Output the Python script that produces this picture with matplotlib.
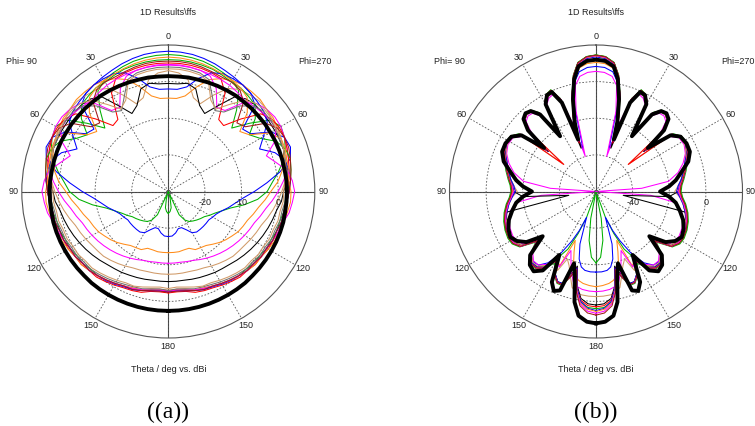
import numpy as np
import matplotlib
matplotlib.use("Agg")
import matplotlib.pyplot as plt

W, H = 755, 426

# ---------------- Left chart (a): theta 0..180 step 5, dBi ----------------
theta_L = list(range(0, 181, 5))
L_rmin, L_rmax = -30, 10
L_rticks = [-20, -10, 0]
L_rlabels = ["-20", "-10", "0"]

L_thick = [1.5, 1.5, 1.6, 1.6, 1.7, 1.8, 1.9, 2.0, 2.0, 2.1, 2.1, 2.2, 2.2, 2.3, 2.3, 2.3, 2.3, 2.4, 2.4,
           2.4, 2.4, 2.5, 2.5, 2.5, 2.5, 2.5, 2.5, 2.5, 2.6, 2.6, 2.6, 2.6, 2.6, 2.6, 2.6, 2.6, 2.6]
L_green_a = [7.4, 7.3, 7.1, 6.8, 6.3, 5.7, 5.0, 3.5, -1.0, -5.5, -1.0, 4.0, 5.5, 5.0, 4.0, 2.5, 0.5, -1.5, -3.0,
             -5.5, -9.0, -12.5, -14.5, -16.0, -17.0, -18.0, -18.5, -19.0, -19.5, -20.0, -21.0, -23.0, -30.0,
             -28.0, -25.5, -24.5, -24.0]
L_blue_a = [8.3, 8.2, 8.0, 7.6, 7.1, 6.5, 6.0, 5.5, 5.0, 3.5, -3.5, -2.5, 2.5, 5.0, 5.5, 4.5, 1.0, -3.0, -6.5,
            -9.5, -11.5, -13.0, -14.5, -15.5, -16.0, -16.5, -16.5, -16.5, -16.5, -16.5, -17.0, -18.5, -19.5,
            -19.5, -18.5, -17.8, -17.7]
L_orange_a = [-4.5, -4.5, -3.5, -0.5, 2.5, 4.0, 5.0, 5.5, 5.5, 5.5, 5.0, 5.0, 4.5, 4.0, 3.5, 2.5, 1.5, 0.0, -2.0,
              -3.5, -5.0, -6.0, -7.0, -7.5, -8.0, -8.8, -9.5, -10.3, -11.2, -12.0, -12.3, -12.5, -13.5, -13.5,
              -13.3, -13.3, -13.3]
L_magenta_a = [4.7, 4.7, 4.5, 4.2, 3.5, 1.0, -3.5, -3.0, 1.5, 4.0, 5.0, 5.5, 5.5, 5.0, 4.5, 4.0, 3.0, 1.5, 0.0,
               -1.5, -3.0, -4.0, -5.0, -5.5, -6.0, -6.5, -7.0, -7.5, -8.0, -8.5, -9.0, -9.5, -10.0, -10.2,
               -10.4, -10.4, -10.4]
L_tan_a = [3.0, 2.5, 1.0, -3.5, -4.5, -1.0, 2.5, 4.0, 4.5, 5.0, 5.0, 4.5, 4.5, 4.0, 3.5, 3.5, 3.0, 2.0, 1.0,
           0.0, -1.0, -2.0, -3.0, -3.5, -4.0, -4.5, -4.8, -5.0, -5.5, -6.0, -6.5, -7.0, -7.2, -7.4, -7.4, -7.4, -7.4]
L_black_a = [-0.5, -0.5, 0.0, -1.0, -5.0, -6.5, -3.0, 1.5, 3.0, 3.5, 3.5, 3.5, 3.5, 3.5, 3.5, 3.0, 3.0, 2.5, 1.5,
             1.0, 0.0, -0.5, -1.0, -1.5, -2.0, -2.5, -3.0, -3.5, -4.0, -4.3, -4.5, -4.8, -5.0, -5.2, -5.4, -5.4, -5.4]
L_red_c = [5.1, 5.1, 5.0, 4.8, 4.5, 4.0, 1.0, -6.0, -6.5, -2.0, 3.0, 4.5, 5.0, 5.0, 4.5, 4.0, 3.5, 3.0, 3.0,
           2.5, 2.5, 2.0, 2.0, 1.5, 1.5, 1.0, 1.0, 0.5, 0.5, 0.0, -0.5, -1.0, -1.2, -1.5, -2.3, -2.5, -2.3]
L_green_c = [6.0, 6.0, 5.9, 5.7, 5.5, 5.0, 4.5, 4.5, 4.0, 3.5, 1.0, -3.0, -1.0, 2.5, 4.0, 4.5, 4.0, 3.5, 2.5,
             2.0, 2.0, 1.5, 1.5, 1.0, 1.0, 0.5, 0.5, 0.0, 0.0, -0.5, -1.0, -1.5, -1.8, -2.0, -2.8, -3.0, -2.8]
L_blue_c = [-2.0, -2.0, -1.0, 2.0, 4.5, 5.5, 5.5, 5.5, 5.0, 4.5, 4.0, 3.0, 0.0, -2.5, 1.0, 3.0, 3.5, 3.5, 3.0,
            2.5, 2.0, 2.0, 1.5, 1.5, 1.0, 1.0, 0.5, 0.5, 0.0, -0.3, -0.8, -1.3, -1.5, -2.0, -2.5, -2.8, -2.6]
L_orange_c = [6.7, 6.6, 6.4, 6.1, 5.7, 5.3, 5.0, 4.5, 3.5, 0.5, -4.5, -3.0, 2.0, 4.0, 4.0, 3.5, 3.5, 3.0, 3.5,
              3.5, 3.0, 2.5, 2.0, 2.0, 1.5, 1.0, 1.0, 0.5, 0.0, -0.5, -1.0, -1.5, -2.0, -2.2, -3.0, -3.2, -3.0]
L_magenta_c = [4.5, 4.5, 4.4, 4.2, 4.0, 3.8, 3.5, 3.0, 2.5, 3.0, 3.5, 4.0, 4.0, 2.0, -1.5, 0.5, 3.0, 4.0, 4.5,
               4.0, 3.5, 2.5, 2.0, 1.5, 1.0, 1.0, 0.5, 0.5, 0.0, -0.5, -1.0, -1.5, -1.8, -2.2, -2.7, -3.0, -2.8]
L_gray_c = [4.0, 4.0, 3.8, 3.5, 2.5, -1.5, -4.5, -3.5, 0.5, 3.0, 4.0, 4.0, 4.0, 3.5, 3.5, 3.0, 3.0, 2.5, 2.0,
            2.0, 1.5, 1.5, 1.0, 1.0, 0.5, 0.5, 0.0, 0.0, -0.5, -1.0, -1.5, -2.0, -2.3, -2.5, -3.0, -3.3, -3.0]
L_darkred_c = [5.6, 5.6, 5.5, 5.2, 4.8, 4.5, 4.5, 4.0, 2.0, -3.5, -2.5, 2.5, 4.5, 5.0, 5.0, 4.5, 4.0, 3.5, 3.0,
               2.5, 2.0, 2.0, 1.5, 1.5, 1.0, 1.0, 0.5, 0.5, 0.0, -0.5, -1.0, -1.5, -1.5, -2.0, -2.5, -2.7, -2.5]
L_tan_c = [3.5, 3.5, 3.3, 3.0, 2.0, -2.5, -4.0, -1.0, 2.5, 4.0, 4.5, 4.5, 4.0, 4.0, 3.5, 3.0, 2.5, 2.0, 1.5,
           1.5, 1.0, 1.0, 0.5, 0.5, 0.0, 0.0, -0.5, -0.5, -1.0, -1.5, -2.0, -2.5, -2.5, -3.0, -3.5, -3.8, -3.5]

# ---------------- Right chart (b): non-uniform theta grid, dBi ----------------
theta_R = [0, 4, 8, 11, 14, 17, 19, 21, 24, 27, 30, 33, 36, 39, 42, 45, 48, 50, 53, 57, 62, 67, 72, 77, 82, 86,
           90, 94, 98, 103, 108, 113, 118, 122, 126, 130, 134, 138, 142, 146, 150, 154, 157, 160, 163, 166, 169,
           172, 176, 180]
R_rmin, R_rmax = -60, 20
R_rticks = [-40, -20, 0]
R_rlabels = ["-40", "", "0"]

R_thick = [12, 11.5, 9, 2.5, -8, -20, -30, -8, -0.5, -1, -5, -24, -8, -3.5, -2.5, -4, -10, -23, -9, -5, -4, -4.3,
           -7, -12, -16, -20, -25, -20, -16, -13, -10, -8, -7, -9, -13, -22, -10, -6, -4.7, -8, -20, -5, -1, -2.5,
           -19, -12, 1.5, 8.5, 11.3, 12]
R_red = [14.5, 13.8, 11.0, 4.5, -6, -18, -32, -6, 0.5, -0.5, -4, -22, -7, -3, -2.5, -4, -11, -37, -8, -4.5, -4,
         -5.5, -8, -10, -12, -13.5, -14, -13, -11, -9, -7.5, -6.5, -6, -6.5, -9, -18, -10, -7, -7, -9.5, -16, -9,
         -6, -6, -11, -17, -6, 0, 2.5, 3]
R_green2 = [14.6, 13.9, 11.2, 4.8, -5.5, -17, -28, -5.5, 0.8, -0.3, -3.8, -21, -6.5, -2.8, -2.3, -3.8, -10.5, -24,
            -7.5, -4.3, -3.8, -5.2, -7.5, -9.5, -11.5, -13, -13.5, -12.5, -10.5, -8.5, -7, -6, -5.5, -6, -8.5, -17,
            -9.5, -6.5, -6.5, -9, -15, -8.5, -5.5, -5.5, -10.5, -16, -5, 1, 3.5, 4]
R_black = [14.3, 13.6, 10.8, 4.2, -6.5, -19, -35, -6.5, 0.3, -0.8, -4.5, -24, -7.5, -3.3, -2.8, -4.3, -11.5, -26,
           -8.5, -5, -4.5, -6, -8.5, -10.5, -12.5, -14, -15, -20, -45, -10, -8, -7, -6.5, -7, -9.5, -19, -10.5,
           -7.5, -7.5, -10, -17, -9.5, -6.5, -6.5, -11.5, -18, -7, -1, 1.5, 2]
R_blue2 = [13.5, 12.8, 10.2, 4, -6, -18, -30, -6, 0, -1, -4.5, -22, -7, -3.5, -3, -4.5, -11, -24, -8, -5, -4.5,
           -6, -9, -11, -13, -15, -16, -14, -12, -10, -8, -7, -6.5, -7, -9.5, -18, -10, -7.5, -7.5, -10, -16, -9.5,
           -6.5, -6.5, -11, -17, -6, 0.5, 4, 5]
R_orange2 = [14, 13.3, 10.6, 4.3, -6, -17, -27, -6, 0.2, -0.7, -4.2, -21, -7, -3.2, -2.7, -4.2, -11, -23, -8,
             -4.8, -4.3, -5.8, -8.3, -10.3, -12.3, -14, -14.5, -13.5, -11.5, -9.5, -8, -7, -6.5, -7, -9.5, -18,
             -10, -7, -7, -9.5, -16, -9, -6, -6, -11, -16, -5, 1.5, 4.5, 5.5]
R_magenta2 = [14.2, 13.5, 10.8, 4.4, -6, -18, -31, -6, 0.4, -0.6, -4, -22, -7, -3, -2.6, -4.1, -11, -25, -8,
              -4.6, -4.1, -5.6, -8, -10, -12, -14, -15, -13.5, -11.5, -9.5, -8, -7, -6.5, -7, -9, -18, -10, -7,
              -7, -9.5, -16, -9, -6, -6, -11, -16, -4.5, 2, 5.5, 6.5]
R_darkred = [14.4, 13.7, 10.9, 4.5, -6, -18, -30, -6, 0.5, -0.5, -4, -22, -7, -3, -2.5, -4, -11, -25, -8, -4.5,
             -4, -5.5, -8, -10, -12, -13.5, -14, -13, -11, -9, -7.5, -6.5, -6, -6.5, -9, -18, -10, -7, -7, -9.5,
             -16, -9, -6, -6, -11, -16, -4, 3, 6.5, 7.5]
R_tan = [11.5, 10.8, 8.5, 3, -7, -20, -30, -7, -1, -2, -5, -23, -8, -4, -3.5, -5, -12, -37, -9, -5.5, -5, -6.5,
         -9, -11, -13, -15, -17, -14, -12, -10, -8.5, -7.5, -7, -8, -10, -19, -11, -8, -8, -11, -17, -12, -20, -17,
         -12, -6, -4, -3, -2.7, -2.6]
R_magenta = [5.6, 5.2, 3.5, -1, -15, -40, -20, -6, -2, -3, -6, -24, -9, -5, -4.5, -6, -13, -26, -10, -6, -5.5,
             -7, -10, -14, -20, -35, -60, -30, -16, -12, -10, -9, -8.5, -9, -11, -20, -12, -9, -9, -12, -18, -14,
             -25, -20, -14, -9, -7, -6, -5.5, -5.3]
R_orange = [10.5, 10, 8, 2.5, -8, -22, -30, -7, -1, -2, -5, -22, -8, -4, -3.5, -5, -12, -24, -9, -5.5, -5, -6.5,
            -9, -11, -13, -15, -16, -14, -12, -10, -8.5, -7.5, -7, -7.5, -10, -19, -11, -8, -8, -11, -17, -15, -31,
            -25, -18, -13, -10.5, -9.3, -8.5, -8]
R_blue = [8.3, 7.9, 6, 1, -10, -36, -28, -7, -1, -2, -5, -23, -8, -4, -3.5, -5, -12, -24, -9, -5.5, -5, -6.5, -9,
          -11, -13, -14.5, -15, -14, -12, -10, -8.5, -7.5, -7, -7.5, -10, -19, -11, -8.5, -9, -13, -20, -30, -37,
          -45, -30, -22, -18, -16.5, -16, -16]
R_green = [14.5, 13.8, 11, 4.6, -6, -18, -30, -6, 0.6, -0.4, -4, -22, -7, -3, -2.5, -4, -11, -24, -8, -4.5, -4,
           -5.5, -8, -10, -12, -13.5, -14, -13, -11, -9, -7.5, -6.5, -6, -6.5, -9, -18, -10, -7.5, -8, -11, -18,
           -25, -35, -45, -60, -60, -45, -33, -24, -21]

theta_labels = ["0", "30", "60", "90", "120", "150", "180", "150", "120", "90", "60", "30"]

C_RED, C_GREEN, C_BLUE = "#ff0000", "#00b000", "#0000ff"
C_MAG, C_ORANGE, C_TAN = "#ff00ff", "#ff8c1a", "#d09a68"
C_BLACK, C_GRAY, C_DRED = "#000000", "#707070", "#a01818"

left_series = [
    (L_green_a, C_GREEN), (L_blue_a, C_BLUE), (L_orange_a, C_ORANGE), (L_magenta_a, C_MAG),
    (L_tan_a, C_TAN), (L_black_a, C_BLACK), (L_red_c, C_RED), (L_green_c, C_GREEN), (L_blue_c, C_BLUE),
    (L_orange_c, C_ORANGE), (L_magenta_c, C_MAG), (L_gray_c, C_GRAY), (L_darkred_c, C_DRED), (L_tan_c, C_TAN),
]
right_series = [
    (R_green, C_GREEN), (R_blue, C_BLUE), (R_orange, C_ORANGE), (R_magenta, C_MAG), (R_tan, C_TAN),
    (R_black, C_BLACK), (R_red, C_RED), (R_green2, C_GREEN), (R_blue2, C_BLUE), (R_orange2, C_ORANGE),
    (R_magenta2, C_MAG), (R_darkred, C_DRED),
]

FONT = "Liberation Sans"
fig = plt.figure(figsize=(W / 100, H / 100), dpi=100)

R_PX = 146.5
CY = 191.5


def make_axes(cx):
    rect = [(cx - R_PX) / W, (H - CY - R_PX) / H, 2 * R_PX / W, 2 * R_PX / H]
    ax = fig.add_axes(rect, projection="polar")
    ax.set_theta_zero_location("N")
    ax.set_theta_direction(-1)
    return ax


def mirror(theta, vals, rmin):
    t = np.asarray(theta, float)
    v = np.clip(np.asarray(vals, float), rmin, None)
    ang = np.concatenate([-t[::-1], t[1:]])
    r = np.concatenate([v[::-1], v[1:]])
    return np.deg2rad(ang), r


def style(ax, rmin, rmax, rticks, rlabels):
    ax.set_ylim(rmin, rmax)
    ax.set_thetagrids(np.arange(0, 360, 30), labels=theta_labels)
    ax.set_rgrids(rticks, labels=[""] * len(rticks))
    ax.tick_params(axis="x", labelsize=6.5, pad=-4.5, colors="#222222")
    for lab in ax.get_xticklabels():
        lab.set_fontfamily(FONT)
    ax.grid(True, color="#555555", linestyle=(0, (2, 2)), linewidth=0.6)
    ax.spines["polar"].set_color("#555555")
    ax.spines["polar"].set_linewidth(0.8)
    for a in [0, 90, 180, 270]:
        ax.plot([np.deg2rad(a)] * 2, [rmin, rmax], color="#444444", lw=0.8, zorder=1)
    for rt, rl in zip(rticks, rlabels):
        ax.annotate(rl, xy=(np.pi / 2, rt), xytext=(0, -8), textcoords="offset points",
                    ha="center", va="center", fontsize=6.5, family=FONT, color="#222222", zorder=5)
    ax.plot([0], [rmin], marker="o", ms=3, mfc="none", mec="#555555", mew=0.7, zorder=6)


def label_texts(cx, letter, phi_left_x, phi_right_x):
    fig.text(cx / W, 1 - 12.5 / H, "1D Results\\ffs", ha="center", va="center", fontsize=6.5,
             family=FONT, color="#222222")
    fig.text(phi_left_x / W, 1 - 61 / H, "Phi= 90", ha="left", va="center", fontsize=6.5, family=FONT,
             color="#222222")
    fig.text(phi_right_x / W, 1 - 61 / H, "Phi=270", ha="left", va="center", fontsize=6.5, family=FONT,
             color="#222222")
    fig.text(cx / W, 1 - 370 / H, "Theta / deg vs. dBi", ha="center", va="center", fontsize=6.5,
             family=FONT, color="#222222")
    fig.text(cx / W, 1 - 412 / H, letter, ha="center", va="center", fontsize=17,
             family="Liberation Serif", color="#000000")


# left chart
axL = make_axes(168.3)
style(axL, L_rmin, L_rmax, L_rticks, L_rlabels)
for vals, col in left_series:
    a, r = mirror(theta_L, vals, L_rmin)
    axL.plot(a, r, color=col, lw=0.75, zorder=3)
a, r = mirror(theta_L, L_thick, L_rmin)
axL.plot(a, r, color="black", lw=2.8, zorder=4)

# right chart
axR = make_axes(596)
style(axR, R_rmin, R_rmax, R_rticks, R_rlabels)
for vals, col in right_series:
    a, r = mirror(theta_R, vals, R_rmin)
    axR.plot(a, r, color=col, lw=0.75, zorder=3)
a, r = mirror(theta_R, R_thick, R_rmin)
axR.plot(a, r, color="black", lw=2.8, zorder=4)

label_texts(168.3, "((a))", 6, 298)
label_texts(596, "((b))", 434, 721)

fig.savefig("out.png", dpi=100)
